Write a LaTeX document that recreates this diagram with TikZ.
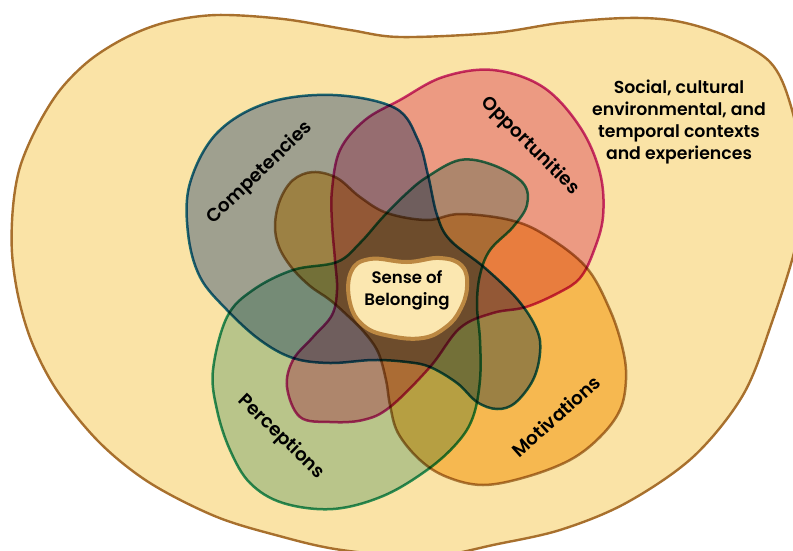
\documentclass[tikz,border=0pt]{standalone}
\usepackage{fontspec}
\setmainfont{Poppins SemiBold}
\definecolor{bgY}{RGB}{250,227,166}
\definecolor{bgLine}{RGB}{168,112,45}
\definecolor{compF}{RGB}{163,180,221}
\definecolor{compL}{RGB}{31,118,169}
\definecolor{oppF}{RGB}{241,174,200}
\definecolor{oppL}{RGB}{204,56,154}
\definecolor{percF}{RGB}{189,222,212}
\definecolor{percL}{RGB}{46,157,123}
\definecolor{motF}{RGB}{251,207,123}
\definecolor{motL}{RGB}{173,135,85}
\definecolor{beanF}{RGB}{251,231,176}
\definecolor{beanL}{RGB}{188,136,66}
\tikzset{
  setshape/.style={line width=2.5pt, line join=round},
  lbl/.style={font=\fontsize{18.5}{20}\selectfont, inner sep=0pt},
  ctx/.style={font=\fontsize{17.3}{22}\selectfont, align=center, inner sep=0pt},
  ctr/.style={font=\fontsize{16.6}{22}\selectfont, align=center, inner sep=0pt},
}
\begin{document}
\begin{tikzpicture}[x=1pt,y=-1pt]
\useasboundingbox (0,0) rectangle (793,550);
\clip (0,0) rectangle (793,550);
\fill[white] (0,0) rectangle (793,550);
% outer context blob
\path[fill=bgY, draw=bgLine, line width=2.4pt] plot[smooth cycle, tension=0.55] coordinates {
 (400,37) (350,30) (283,19) (217,15) (167,22) (127,37) (90,60) (60,90) (37,127)
 (20,167) (13,207) (12,253) (19,300) (33,345) (58,392)
 (100,443) (150,483) (217,517) (283,537) (335,549) (400,556)
 (445,555) (493,545) (560,530) (626,503) (693,457) (743,395) (772,322) (797,240)
 (803,170) (790,103) (770,62) (726,36) (676,21) (626,18) (560,23) (493,33)};
\begin{scope}[blend mode=multiply]
% Competencies
\path[setshape, fill=compF, draw=compL] plot[smooth cycle, tension=0.6] coordinates {
 (395,108) (333,95) (267,103) (217,133) (190,183) (188,233) (200,277) (227,310)
 (260,340) (293,358) (330,363) (373,360) (407,362) (430,367) (457,383) (477,402)
 (497,409) (515,403) (533,380) (540,353) (537,330) (518,300) (485,268) (450,240)
 (437,215) (428,175) (418,140)};
% Opportunities
\path[setshape, fill=oppF, draw=oppL] plot[smooth cycle, tension=0.6] coordinates {
 (400,100) (443,77) (493,70) (543,87) (580,127) (600,173) (603,217) (593,253)
 (580,278) (560,292) (526,307) (493,313) (460,328) (430,367) (390,407) (363,420)
 (330,422) (300,417) (287,387) (293,360) (313,337) (332,315) (337,290) (335,260)
 (332,223) (332,190) (340,150) (365,120)};
% Perceptions
\path[setshape, fill=percF, draw=percL] plot[smooth cycle, tension=0.6] coordinates {
 (213,370) (227,317) (253,290) (293,270) (337,262) (360,243) (383,217) (407,193)
 (427,177) (460,160) (493,165) (523,183) (527,205) (513,227) (490,250) (480,275)
 (477,305) (480,340) (480,380) (473,417) (457,443) (427,470) (383,496) (333,509)
 (283,503) (250,483) (230,450) (217,410)};
% Motivations
\path[setshape, fill=motF, draw=motL] plot[smooth cycle, tension=0.6] coordinates {
 (483,485) (447,477) (420,460) (398,433) (390,405) (386,380) (378,352) (364,332)
 (348,316) (330,300) (310,286) (292,268) (279,247) (275,225) (280,200) (293,180)
 (313,172) (337,178) (360,197) (387,213) (427,220) (460,214) (510,220) (545,235)
 (586,267) (610,310) (623,350) (626,380) (620,410) (600,437) (570,460) (526,477)};
\end{scope}
% centre
\path[fill=beanF, draw=beanL, line width=4pt] plot[smooth cycle, tension=0.7] coordinates {
 (351,272) (370,259) (407,262) (440,258) (462,266) (467,287) (460,310) (446,327)
 (423,338) (390,336) (364,326) (350,303)};
\node[ctr] (sob) at (407,290) {Sense of\\Belonging};
\node[ctx] (ctxt) at (679,122) {Social, cultural\\environmental, and\\temporal contexts\\and experiences};
\node[lbl, rotate=43.6] (comp) at (260,173) {Competencies};
\node[lbl, rotate=-45] (opp) at (530,146) {Opportunities};
\node[lbl, rotate=-44] (perc) at (281,437) {Perceptions};
\node[lbl, rotate=42] (mot) at (556,416) {Motivations};
\end{tikzpicture}
\end{document}
